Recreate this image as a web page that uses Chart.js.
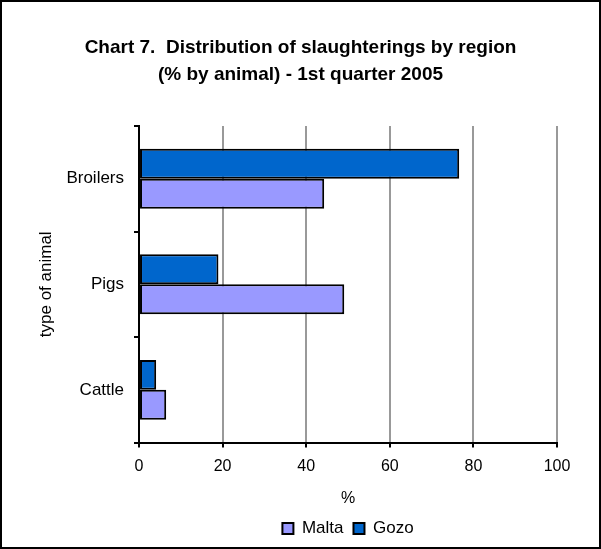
<!DOCTYPE html>
<html>
<head>
<meta charset="utf-8">
<script src="https://cdn.jsdelivr.net/npm/chart.js@4"></script>
<style>
  html, body { margin: 0; padding: 0; background: #fff; }
  #wrap { width: 601px; height: 549px; box-sizing: border-box; border: 2px solid #000; }
</style>
</head>
<body>
<div id="wrap"><canvas id="slaughterChart" width="597" height="545"></canvas></div>
<script>
var animals = ['Broilers', 'Pigs', 'Cattle'];
var maltaPct = [44.3, 49.1, 6.5];
var gozoPct = [76.6, 19.0, 4.1];
var xTicks = [0, 20, 40, 60, 80, 100];

Chart.defaults.font.family = "'Liberation Sans', Arial, sans-serif";
Chart.defaults.color = '#000';

// keep the title centred on the whole canvas, not the padded area
var centreTitle = {
  id: 'centreTitle',
  afterLayout: function (chart) {
    if (chart.titleBlock) {
      chart.titleBlock.left = 0;
      chart.titleBlock.right = chart.width;
    }
  }
};

var ctx = document.getElementById('slaughterChart').getContext('2d');
var chart = new Chart(ctx, {
  type: 'bar',
  data: {
    labels: animals,
    datasets: [{
      label: 'Gozo',
      data: gozoPct,
      backgroundColor: '#0066cc',
      borderColor: '#000',
      borderWidth: 2,
      borderSkipped: false,
      barPercentage: 1,
      categoryPercentage: 0.567
    }, {
      label: 'Malta',
      data: maltaPct,
      backgroundColor: '#9999ff',
      borderColor: '#000',
      borderWidth: 2,
      borderSkipped: false,
      barPercentage: 1,
      categoryPercentage: 0.567
    }]
  },
  options: {
    indexAxis: 'y',
    responsive: false,
    animation: false,
    layout: { padding: { left: 10, right: 42, top: 32, bottom: 0 } },
    plugins: {
      title: {
        display: true,
        text: ['Chart 7.  Distribution of slaughterings by region', '(% by animal) - 1st quarter 2005'],
        font: { size: 19, weight: 'bold', lineHeight: 1.42 },
        padding: { top: 0, bottom: 38 }
      },
      legend: {
        position: 'bottom',
        fullSize: false,
        reverse: true,
        labels: {
          boxWidth: 11,
          boxHeight: 11,
          padding: 10,
          font: { size: 17 },
          generateLabels: function (c) {
            var items = Chart.defaults.plugins.legend.labels.generateLabels(c);
            items.forEach(function (it) { it.lineWidth = 2; it.strokeStyle = '#000'; });
            return items;
          }
        }
      },
      tooltip: { enabled: false }
    },
    scales: {
      x: {
        min: 0,
        max: 100,
        afterBuildTicks: function (axis) {
          axis.ticks = xTicks.map(function (v) { return { value: v }; });
        },
        ticks: { font: { size: 16 }, padding: 9 },
        grid: { color: '#999', lineWidth: 2, tickColor: '#000', tickLength: 5 },
        border: { color: '#000', width: 2 },
        title: { display: true, text: '%', font: { size: 16 }, padding: { top: 4, bottom: 2 } }
      },
      y: {
        ticks: { font: { size: 17 }, padding: 10 },
        grid: { offset: true, drawOnChartArea: false, tickLength: 5, color: '#000', lineWidth: 2 },
        border: { color: '#000', width: 2 },
        title: { display: true, text: 'type of animal', font: { size: 17 }, padding: { top: 24, bottom: 0 } }
      }
    }
  },
  plugins: [centreTitle]
});
</script>
</body>
</html>
